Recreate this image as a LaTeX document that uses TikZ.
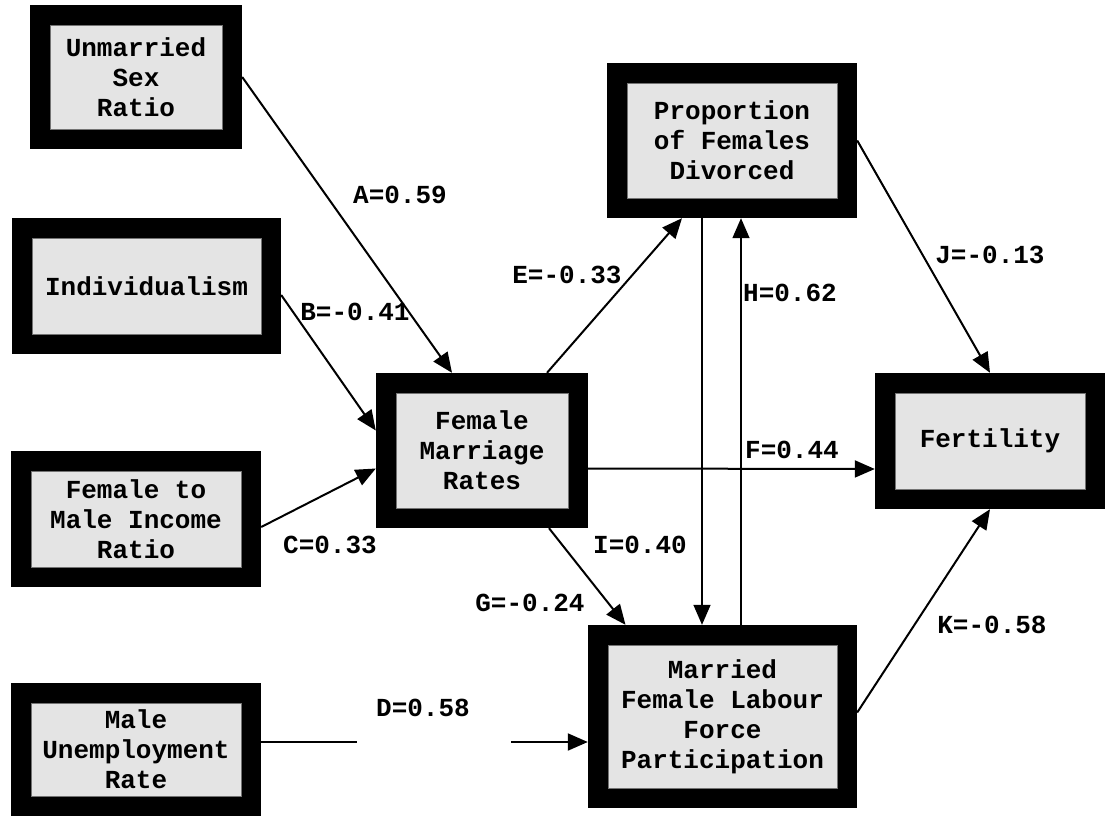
\documentclass[tikz,border=0pt]{standalone}
\usepackage{fontspec}
\usepackage{tikz}
\usetikzlibrary{arrows.meta}
\setmonofont{Liberation Mono}
\definecolor{boxgray}{RGB}{228,228,228}
\newcommand{\boxfont}{\ttfamily\bfseries\fontsize{26}{30}\selectfont}

\begin{document}
\begin{tikzpicture}[x=1pt, y=-1pt,
    varbox/.style={rectangle, fill=black, inner sep=0pt, align=center, font=\boxfont,
        path picture={\draw[fill=boxgray, draw=black!55, line width=1pt]
            ([shift={(20pt,20pt)}]path picture bounding box.south west) rectangle
            ([shift={(-20pt,-20pt)}]path picture bounding box.north east);}},
    lbl/.style={font=\boxfont, inner sep=0pt},
    arr/.style={-{Triangle[length=20pt,width=17pt]}, line width=2pt},
    thin arr/.style={-{Triangle[length=20pt,width=17pt]}, line width=1.5pt},
    plain/.style={line width=2pt}]

	\useasboundingbox (0, 0) rectangle (1112, 817);

	\node[varbox, minimum width=212pt, minimum height=144pt] (unm) at (136, 77)      {Unmarried\\Sex\\Ratio};
	\node[varbox, minimum width=269pt, minimum height=136pt] (ind) at (146.5, 286)   {Individualism};
	\node[varbox, minimum width=250pt, minimum height=136pt] (inc) at (136, 519)     {Female to\\Male Income\\Ratio};
	\node[varbox, minimum width=250pt, minimum height=133pt] (une) at (136, 749.5)   {Male\\Unemployment\\Rate};
	\node[varbox, minimum width=212pt, minimum height=155pt] (fmr) at (482, 450.5)   {Female\\Marriage\\Rates};
	\node[varbox, minimum width=250pt, minimum height=155pt] (div) at (732, 140.5)   {Proportion\\of Females\\Divorced};
	\node[varbox, minimum width=269pt, minimum height=183pt] (lab) at (722.5, 716.5) {Married\\Female Labour\\Force\\Participation};
	\node[varbox, minimum width=230pt, minimum height=136pt] (fer) at (990, 441)     {Fertility};

	\coordinate (dl) at (357, 742);
	\coordinate (dr) at (511, 742);

    \path[arr] (unm.east) edge ([xshift=-30pt]fmr.north);
    \path[arr] ([yshift=-9pt]ind.east) edge ([yshift=20pt]fmr.west);
    \path[arr] ([yshift=-8pt]inc.east) edge ([yshift=-18pt]fmr.west);
    \path[plain] ([yshift=7.5pt]une.east) edge (dl);
    \path[arr] (dr) edge ([yshift=-25.5pt]lab.west);

    \path[arr] ([xshift=65pt]fmr.north) edge ([xshift=-50pt]div.south);
    \path[arr] ([yshift=-18pt]fmr.east) edge ([yshift=-28pt]fer.west);
    \path[arr] ([xshift=67pt]fmr.south) edge ([xshift=-97pt]lab.north);

    \path[thin arr] ([xshift=-30pt]div.south) edge ([xshift=-20.5pt]lab.north);
    \path[thin arr] ([xshift=18.5pt]lab.north) edge ([xshift=9pt]div.south);

    \path[arr] (div.east) edge (fer.north);
    \path[arr] ([yshift=4pt]lab.east) edge (fer.south);

	\node[lbl] (la) at (400, 195) {A=0.59};
	\node[lbl] (lb) at (355, 312) {B=-0.41};
	\node[lbl] (lc) at (330, 545) {C=0.33};
	\node[lbl] (ld) at (423, 708) {D=0.58};
	\node[lbl] (le) at (567, 275) {E=-0.33};
	\node[lbl] (lf) at (792, 450) {F=0.44};
	\node[lbl] (lg) at (530, 603) {G=-0.24};
	\node[lbl] (lh) at (790, 293) {H=0.62};
	\node[lbl] (li) at (640, 545) {I=0.40};
	\node[lbl] (lj) at (990, 255) {J=-0.13};
	\node[lbl] (lk) at (992, 625) {K=-0.58};

\end{tikzpicture}
\end{document}
